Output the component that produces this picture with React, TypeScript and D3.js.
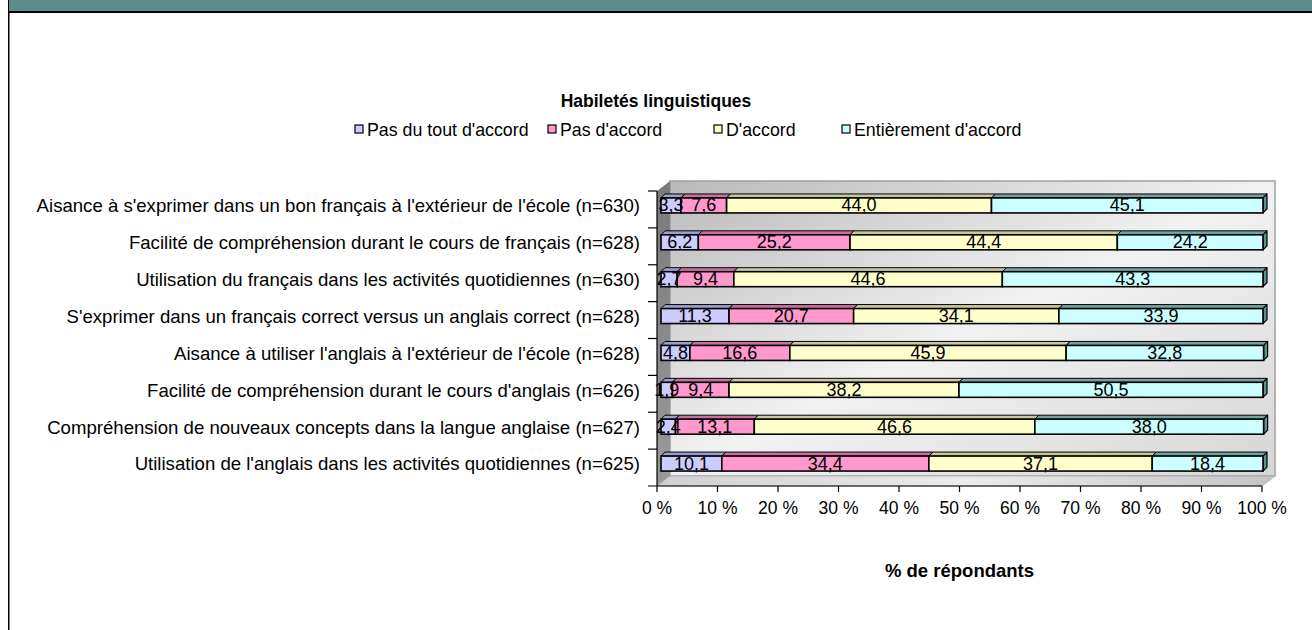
import React from "react";
import * as d3 from "d3";

const categories = [
  "Aisance à s'exprimer dans un bon français à l'extérieur de l'école (n=630)",
  "Facilité de compréhension durant le cours de français (n=628)",
  "Utilisation du français dans les activités quotidiennes (n=630)",
  "S'exprimer dans un français correct versus un anglais correct (n=628)",
  "Aisance à utiliser l'anglais à l'extérieur de l'école (n=628)",
  "Facilité de compréhension durant le cours d'anglais (n=626)",
  "Compréhension de nouveaux concepts dans la langue anglaise (n=627)",
  "Utilisation de l'anglais dans les activités quotidiennes (n=625)",
];

const seriesNames = ["Pas du tout d'accord", "Pas d'accord", "D'accord", "Entièrement d'accord"];
const pasDuTout = [3.3, 6.2, 2.7, 11.3, 4.8, 1.9, 2.4, 10.1];
const pasDAccord = [7.6, 25.2, 9.4, 20.7, 16.6, 9.4, 13.1, 34.4];
const dAccord = [44.0, 44.4, 44.6, 34.1, 45.9, 38.2, 46.6, 37.1];
const entierement = [45.1, 24.2, 43.3, 33.9, 32.8, 50.5, 38.0, 18.4];
const xTicks = [0, 10, 20, 30, 40, 50, 60, 70, 80, 90, 100];

const fills = ["#ccccff", "#ff99cc", "#ffffcc", "#ccffff"];
const tops = ["#9d9dcf", "#cc6f9f", "#c8c89a", "#6fa3a3"];
const legendX = [355, 548, 714, 842];

const W = 1312;
const H = 630;
const FONT = "Arial, 'Liberation Sans', sans-serif";

// depth of the walls and of the bars (3D look)
const WALL_DX = 13;
const WALL_DY = -10;
const BAR_D = 4;
const BAR_H = 15;

export default function App() {
  const rows = categories.map((c, i) => ({
    cat: c,
    [seriesNames[0]]: pasDuTout[i],
    [seriesNames[1]]: pasDAccord[i],
    [seriesNames[2]]: dAccord[i],
    [seriesNames[3]]: entierement[i],
  }));
  const stacked = d3.stack<any>().keys(seriesNames)(rows);

  const x = d3.scaleLinear().domain([0, 100]).range([657, 1262]);
  const xBar = d3.scaleLinear().domain([0, 100]).range([661, 1263]);
  const y = d3.scaleBand().domain(categories).range([191, 486]).padding(0);

  const fmt = (v: number) => d3.format(".1f")(v).replace(".", ",");

  const x0 = x(0);
  const x1 = x(100);
  const yT = y.range()[0];
  const yB = y.range()[1];

  return (
    <svg width={W} height={H} style={{ position: "absolute", left: 0, top: 0, background: "#fff" }} fontFamily={FONT}>
      <defs>
        <linearGradient id="backWall" x1="0" y1="0" x2="1" y2="1">
          <stop offset="0" stopColor="#b9b9b9" />
          <stop offset="0.5" stopColor="#f2f2f2" />
          <stop offset="1" stopColor="#d6d6d6" />
        </linearGradient>
        <linearGradient id="sideWall" x1="0" y1="0" x2="0" y2="1">
          <stop offset="0" stopColor="#7a7a7a" />
          <stop offset="1" stopColor="#9a9a9a" />
        </linearGradient>
        <linearGradient id="floor" x1="0" y1="0" x2="1" y2="0">
          <stop offset="0" stopColor="#d0d0d0" />
          <stop offset="0.5" stopColor="#ececec" />
          <stop offset="1" stopColor="#c4c4c4" />
        </linearGradient>
      </defs>

      {/* frame */}
      <rect x={10} y={0} width={W - 10} height={11} fill="#5f8b8b" />
      <rect x={8} y={11} width={W - 8} height={2} fill="#000" />
      <rect x={8} y={0} width={1.5} height={H} fill="#000" />

      {/* title */}
      <text x={656} y={107} textAnchor="middle" fontSize={17.5} fontWeight="bold">
        Habiletés linguistiques
      </text>

      {/* legend */}
      {seriesNames.map((s, i) => (
        <g key={s}>
          <rect x={legendX[i]} y={125} width={8} height={8} fill={fills[i]} stroke="#000" strokeWidth={1.2} />
          <text x={legendX[i] + 12} y={135.5} fontSize={17.8}>
            {s}
          </text>
        </g>
      ))}

      {/* walls */}
      <polygon
        points={`${x0 + WALL_DX},${yT + WALL_DY} ${x1 + WALL_DX},${yT + WALL_DY} ${x1 + WALL_DX},${yB + WALL_DY} ${x0 + WALL_DX},${yB + WALL_DY}`}
        fill="url(#backWall)"
        stroke="#a0a0a0"
        strokeWidth={1.5}
      />
      <polygon
        points={`${x0},${yT} ${x0 + WALL_DX},${yT + WALL_DY} ${x0 + WALL_DX},${yB + WALL_DY} ${x0},${yB}`}
        fill="url(#sideWall)"
      />
      <polygon
        points={`${x0},${yB} ${x0 + WALL_DX},${yB + WALL_DY} ${x1 + WALL_DX},${yB + WALL_DY} ${x1},${yB}`}
        fill="url(#floor)"
        stroke="#b0b0b0"
        strokeWidth={1}
      />

      {/* bars */}
      {categories.map((c) => {
        const cy = (y(c) as number) + y.bandwidth() / 2 - BAR_D;
        const top = cy - BAR_H / 2;
        const bot = cy + BAR_H / 2;
        return (
          <g key={c}>
            {stacked.map((layer, si) => {
              const d = layer.find((p) => p.data.cat === c)!;
              const a = xBar(d[0]);
              const b = xBar(d[1]);
              const last = si === stacked.length - 1;
              return (
                <g key={si}>
                  <polygon
                    points={`${a},${top} ${a + BAR_D},${top - BAR_D} ${b + BAR_D},${top - BAR_D} ${b},${top}`}
                    fill={tops[si]}
                    stroke="#000"
                    strokeWidth={1}
                    strokeLinejoin="round"
                  />
                  {last && (
                    <polygon
                      points={`${b},${top} ${b + BAR_D},${top - BAR_D} ${b + BAR_D},${bot - BAR_D} ${b},${bot}`}
                      fill="#5f8f8f"
                      stroke="#000"
                      strokeWidth={1.2}
                      strokeLinejoin="round"
                    />
                  )}
                  <rect x={a} y={top} width={b - a} height={BAR_H} fill={fills[si]} stroke="#000" strokeWidth={1.6} />
                </g>
              );
            })}
            {stacked.map((layer, si) => {
              const d = layer.find((p) => p.data.cat === c)!;
              const mid = (xBar(d[0]) + xBar(d[1])) / 2;
              return (
                <text key={"t" + si} x={mid} y={cy + 6} textAnchor="middle" fontSize={18} fill="#000">
                  {fmt(d[1] - d[0])}
                </text>
              );
            })}
          </g>
        );
      })}

      {/* y axis */}
      <line x1={x0} x2={x0} y1={yT} y2={yB} stroke="#000" strokeWidth={1.2} />
      {categories.map((c) => (
        <line key={"tk" + c} x1={x0 - 9} x2={x0} y1={y(c)!} y2={y(c)!} stroke="#000" strokeWidth={1.2} />
      ))}
      {categories.map((c) => (
        <text
          key={"lb" + c}
          x={640}
          y={(y(c) as number) + y.bandwidth() / 2 - 2}
          textAnchor="end"
          fontSize={18.6}
          dominantBaseline="middle"
        >
          {c}
        </text>
      ))}

      {/* x axis */}
      <line x1={x0 - 9} x2={x1} y1={yB} y2={yB} stroke="#000" strokeWidth={1.2} />
      {xTicks.map((t) => (
        <g key={"x" + t}>
          <line x1={x(t)} x2={x(t)} y1={yB} y2={yB + 6} stroke="#000" strokeWidth={1.2} />
          <text x={x(t)} y={514} textAnchor="middle" fontSize={17.5}>
            {t} %
          </text>
        </g>
      ))}
      <text x={(x0 + x1) / 2} y={577} textAnchor="middle" fontSize={18.5} fontWeight="bold">
        % de répondants
      </text>
    </svg>
  );
}
